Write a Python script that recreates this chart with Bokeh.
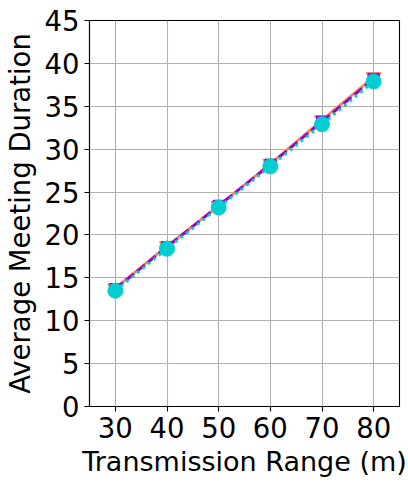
from bokeh.plotting import figure
from bokeh.embed import file_html
from bokeh.resources import INLINE
from bokeh.models import FixedTicker

ranges_m = [30, 40, 50, 60, 70, 80]
series_orange = [13.8, 18.7, 23.4, 28.3, 33.4, 38.4]
series_purple = [13.7, 18.6, 23.4, 28.2, 33.2, 38.2]
series_cyan = [13.5, 18.4, 23.2, 28.0, 32.9, 37.9]
x_ticks = [30, 40, 50, 60, 70, 80]
y_ticks = [0, 5, 10, 15, 20, 25, 30, 35, 40, 45]

p = figure(width=408, height=487, x_range=(25, 85), y_range=(0, 45),
           output_backend="svg", toolbar_location=None,
           min_border_left=89, min_border_right=9, min_border_top=20, min_border_bottom=81)

p.background_fill_color = "white"
p.border_fill_color = "white"
p.outline_line_color = "black"
p.outline_line_width = 1.1

font = "DejaVu Sans"
fs = "27.5px"
for ax in (p.xaxis, p.yaxis):
    ax.axis_line_color = "black"
    ax.axis_line_width = 1.1
    ax.major_tick_line_color = "black"
    ax.major_tick_line_width = 1.1
    ax.major_tick_out = 5
    ax.major_tick_in = 0
    ax.minor_tick_line_color = None
    ax.major_label_text_font = font
    ax.major_label_text_font_size = fs
    ax.major_label_text_color = "black"
    ax.major_label_standoff = 5
    ax.axis_label_text_font = font
    ax.axis_label_text_font_size = fs
    ax.axis_label_text_font_style = "normal"
    ax.axis_label_text_color = "black"
    ax.axis_label_standoff = 6

p.xaxis.axis_label_standoff = 5
p.xaxis.axis_label_text_font_size = "27px"
p.xaxis.ticker = FixedTicker(ticks=x_ticks)
p.yaxis.ticker = FixedTicker(ticks=y_ticks)
p.xaxis.axis_label = "Transmission Range (m)"
p.yaxis.axis_label = "Average Meeting Duration"

p.grid.grid_line_color = "#b0b0b0"
p.grid.grid_line_width = 1.1
p.xgrid.ticker = FixedTicker(ticks=x_ticks)
p.ygrid.ticker = FixedTicker(ticks=y_ticks)

c_orange = "#fa7f5a"
c_purple = "#9400d3"
c_cyan = "#00ced1"

p.line(ranges_m, series_orange, line_color=c_orange, line_width=2.8)
p.scatter(ranges_m, series_orange, marker="inverted_triangle", size=15,
          fill_color=c_orange, line_color=c_orange)
p.line(ranges_m, series_purple, line_color=c_purple, line_width=2.8, line_dash="10 4")
p.scatter(ranges_m, series_purple, marker="square", size=11,
          fill_color=c_purple, line_color=c_purple)
p.line(ranges_m, series_cyan, line_color=c_cyan, line_width=2.8, line_dash="3 4")
p.scatter(ranges_m, series_cyan, marker="circle", size=15,
          fill_color=c_cyan, line_color=c_cyan)

open("out.html", "w").write(file_html(p, INLINE))
